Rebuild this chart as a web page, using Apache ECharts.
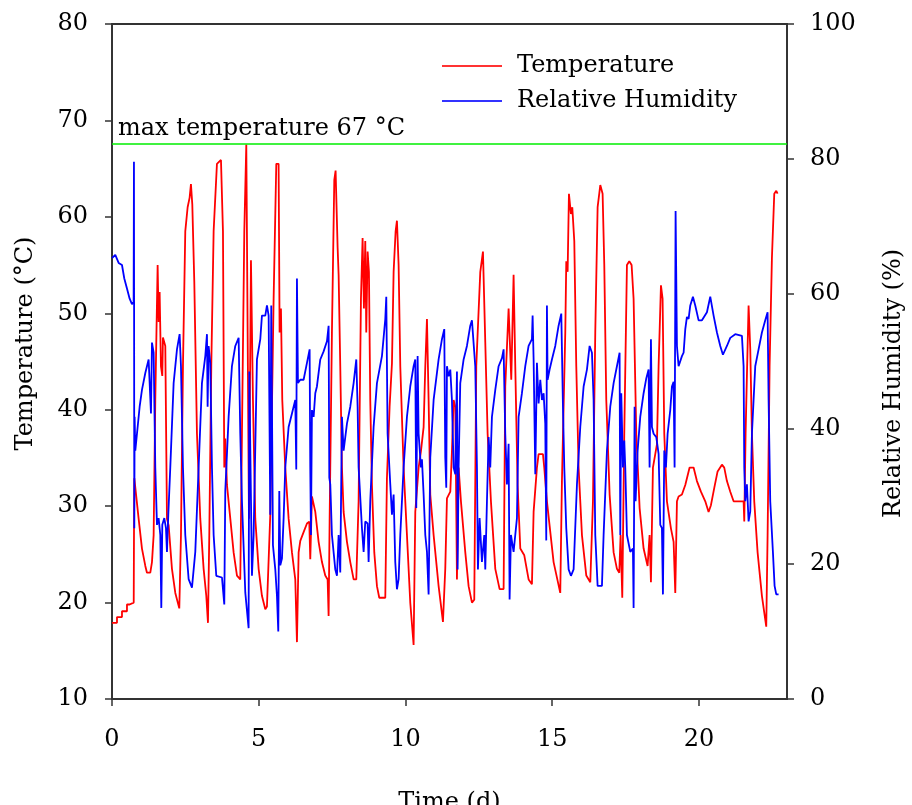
<!DOCTYPE html>
<html>
<head>
<meta charset="utf-8">
<script src="https://cdn.jsdelivr.net/npm/echarts@6/dist/echarts.min.js"></script>
<style>
html,body{margin:0;padding:0;background:#fff;}
#chart{width:912px;height:805px;}
</style>
</head>
<body>
<div id="chart"></div>
<script>
// Time (d), Temperature (°C)
const temperatureData = [
[0,17.9],[0.17,17.9],[0.17,18.5],[0.34,18.5],[0.34,19.1],[0.51,19.1],[0.51,19.8],[0.6,19.8],[0.6,20.0],[0.74,20.0],[0.75,27.7],[0.76,32.9],[0.79,32.9],[0.907,28.7],[1.021,25.6],[1.135,23.8],[1.191,23.1],[1.305,23.1],[1.362,24.2],[1.419,27.0],[1.475,41.0],[1.555,55.0],[1.589,49.1],[1.623,52.2],[1.668,44.5],[1.714,43.5],[1.736,47.5],[1.816,46.6],[1.873,28.7],[1.93,28.0],[2.043,23.5],[2.157,21.0],[2.293,19.4],[2.35,27.0],[2.418,44.5],[2.497,58.5],[2.577,61.0],[2.645,62.0],[2.69,63.4],[2.736,61.3],[2.804,53.3],[2.895,37.5],[3.008,28.7],[3.122,23.5],[3.213,20.7],[3.27,17.9],[3.315,27.0],[3.383,44.5],[3.463,58.5],[3.576,65.5],[3.713,65.9],[3.781,58.5],[3.826,34.0],[3.86,37.0],[3.917,32.2],[4.031,28.7],[4.144,25.2],[4.258,22.8],[4.371,22.4],[4.428,37.5],[4.508,58.5],[4.576,67.5],[4.621,67.3],[4.667,28.7],[4.735,55.5],[4.803,41.0],[4.882,28.7],[4.996,23.5],[5.109,20.7],[5.223,19.3],[5.28,19.6],[5.393,29.1],[5.507,51.5],[5.598,65.5],[5.677,65.5],[5.711,48.0],[5.757,50.5],[5.802,41.0],[5.904,34.0],[6.018,28.7],[6.132,25.2],[6.245,22.4],[6.302,15.9],[6.359,25.2],[6.416,26.4],[6.529,27.3],[6.643,28.2],[6.722,28.4],[6.756,24.5],[6.813,31.0],[6.927,29.4],[7.04,26.3],[7.154,24.2],[7.267,22.8],[7.347,22.4],[7.381,18.6],[7.415,28.4],[7.494,48.0],[7.574,63.8],[7.619,64.8],[7.688,56.8],[7.722,54.0],[7.778,44.5],[7.835,34.0],[7.892,29.4],[8.006,26.3],[8.119,24.2],[8.233,22.4],[8.324,22.4],[8.403,30.5],[8.483,51.5],[8.539,57.8],[8.585,50.5],[8.63,57.5],[8.664,48.0],[8.71,56.4],[8.755,54.3],[8.8,41.0],[8.857,32.2],[8.937,25.2],[9.028,21.7],[9.107,20.5],[9.312,20.5],[9.368,32.9],[9.459,40.3],[9.539,44.8],[9.596,54.3],[9.664,58.5],[9.709,59.6],[9.766,55.0],[9.823,44.5],[9.936,34.0],[10.05,27.0],[10.163,20.0],[10.277,15.6],[10.334,29.4],[10.448,34.0],[10.527,35.7],[10.618,38.2],[10.675,44.5],[10.732,49.4],[10.788,41.0],[10.845,31.2],[10.959,27.0],[11.129,21.7],[11.277,18.0],[11.356,23.5],[11.413,30.8],[11.527,31.5],[11.583,35.7],[11.64,41.0],[11.697,40.3],[11.754,22.4],[11.81,34.0],[11.89,30.5],[12.038,25.2],[12.151,21.7],[12.265,20.0],[12.344,20.3],[12.412,44.5],[12.549,54.3],[12.64,56.4],[12.719,47.0],[12.799,37.5],[12.912,30.5],[13.06,23.5],[13.207,21.4],[13.344,21.4],[13.4,42.4],[13.514,50.5],[13.605,43.1],[13.684,54.0],[13.741,44.5],[13.821,32.2],[13.912,25.6],[14.048,24.9],[14.195,22.4],[14.309,21.9],[14.366,29.4],[14.479,34.0],[14.536,35.4],[14.684,35.4],[14.729,34.0],[14.82,30.5],[15.047,24.2],[15.274,21.0],[15.331,32.6],[15.445,48.0],[15.479,55.4],[15.525,54.3],[15.57,62.4],[15.638,60.3],[15.684,61.0],[15.752,57.5],[15.82,44.5],[15.899,34.0],[16.013,27.0],[16.161,22.8],[16.297,22.1],[16.388,30.5],[16.467,48.0],[16.547,61.0],[16.638,63.3],[16.717,62.4],[16.774,55.0],[16.842,41.0],[16.956,31.2],[17.092,25.2],[17.205,23.5],[17.285,23.1],[17.33,27.0],[17.387,20.5],[17.455,37.5],[17.546,55.0],[17.626,55.4],[17.705,55.0],[17.773,51.5],[17.864,37.5],[17.978,29.8],[18.114,25.6],[18.25,23.8],[18.318,27.0],[18.364,22.1],[18.432,34.0],[18.568,36.4],[18.625,44.5],[18.705,52.9],[18.761,51.5],[18.818,37.5],[18.909,30.5],[19.045,27.7],[19.136,26.3],[19.193,21.0],[19.25,30.5],[19.306,31.0],[19.42,31.2],[19.534,32.2],[19.681,34.0],[19.817,34.0],[19.931,32.6],[20.067,31.5],[20.215,30.5],[20.328,29.4],[20.408,30.1],[20.522,31.9],[20.635,33.6],[20.783,34.3],[20.862,34.0],[20.953,32.6],[21.067,31.5],[21.18,30.5],[21.521,30.5],[21.544,28.4],[21.589,37.5],[21.634,43.5],[21.691,50.8],[21.748,46.3],[21.805,37.5],[21.884,30.5],[21.998,25.2],[22.145,20.7],[22.293,17.5],[22.339,27.0],[22.407,44.5],[22.486,55.7],[22.566,62.4],[22.634,62.7],[22.679,62.4]
];

// Time (d), Relative Humidity (%)
const humidityData = [
[0,65.3],[0.112,65.8],[0.226,64.6],[0.34,64.3],[0.419,62.3],[0.51,60.8],[0.601,59.3],[0.68,58.5],[0.737,58.8],[0.748,79.6],[0.76,25.3],[0.771,41.8],[0.794,36.8],[0.851,39.3],[0.942,43.3],[1.021,45.8],[1.135,48.3],[1.248,50.3],[1.305,50.3],[1.328,42.3],[1.362,52.8],[1.419,51.3],[1.475,34.3],[1.532,25.8],[1.589,26.8],[1.646,24.3],[1.68,13.5],[1.714,25.8],[1.782,26.8],[1.839,25.3],[1.873,21.8],[1.918,27.3],[1.986,34.3],[2.1,46.8],[2.214,51.8],[2.304,54.05],[2.35,49.3],[2.418,34.3],[2.497,24.3],[2.611,17.75],[2.725,16.5],[2.838,21.8],[2.952,34.3],[3.065,46.8],[3.179,50.8],[3.236,54.05],[3.258,43.3],[3.292,52.3],[3.349,49.8],[3.406,34.3],[3.463,24.3],[3.553,18.25],[3.747,18.0],[3.826,14.0],[3.86,30.8],[3.974,41.8],[4.087,49.3],[4.201,52.3],[4.315,53.5],[4.371,39.3],[4.428,29.3],[4.542,15.75],[4.655,10.5],[4.678,48.5],[4.769,18.25],[4.826,24.3],[4.939,50.3],[5.053,53.3],[5.109,56.8],[5.223,56.8],[5.28,58.3],[5.337,56.8],[5.393,27.3],[5.427,58.3],[5.484,22.8],[5.564,19.2],[5.621,15.25],[5.666,10.0],[5.7,30.8],[5.734,19.8],[5.791,20.8],[5.848,26.8],[5.904,34.3],[6.018,40.3],[6.132,42.3],[6.245,44.3],[6.279,34.0],[6.302,62.3],[6.336,46.8],[6.416,47.3],[6.529,47.3],[6.643,49.8],[6.734,51.8],[6.756,34.3],[6.779,24.3],[6.813,42.8],[6.87,41.8],[6.927,45.3],[6.983,46.3],[7.097,50.3],[7.211,51.5],[7.324,53.0],[7.381,55.3],[7.404,32.8],[7.438,31.8],[7.494,24.3],[7.608,19.2],[7.665,18.25],[7.722,24.3],[7.778,18.75],[7.835,41.8],[7.892,36.8],[8.006,40.8],[8.119,43.3],[8.233,46.8],[8.324,50.3],[8.369,43.3],[8.403,34.3],[8.517,25.3],[8.574,21.8],[8.63,26.3],[8.71,26.0],[8.744,20.3],[8.8,29.3],[8.914,40.3],[9.028,46.8],[9.198,50.8],[9.312,56.3],[9.346,59.6],[9.391,39.3],[9.482,31.8],[9.539,27.3],[9.596,30.3],[9.652,20.3],[9.709,16.25],[9.766,17.75],[9.823,24.3],[9.936,34.3],[10.05,41.8],[10.163,46.3],[10.277,49.3],[10.334,50.3],[10.368,28.3],[10.414,50.8],[10.448,39.3],[10.527,34.3],[10.561,35.5],[10.618,30.3],[10.675,24.3],[10.732,21.8],[10.788,15.5],[10.845,35.8],[10.959,44.3],[11.129,50.3],[11.243,53.3],[11.322,54.8],[11.356,35.8],[11.39,31.3],[11.413,49.3],[11.47,47.8],[11.527,48.8],[11.583,44.3],[11.64,34.3],[11.697,33.3],[11.754,48.5],[11.776,19.2],[11.81,34.3],[11.867,46.8],[11.981,50.3],[12.094,52.3],[12.208,55.3],[12.265,56.1],[12.322,56.1],[12.378,49.3],[12.435,34.3],[12.469,19.2],[12.526,26.8],[12.605,20.3],[12.685,24.3],[12.719,19.2],[12.776,29.3],[12.833,38.8],[12.889,34.3],[12.946,41.8],[13.06,45.8],[13.173,49.3],[13.287,50.5],[13.344,51.8],[13.4,39.3],[13.457,31.8],[13.514,37.8],[13.548,14.75],[13.594,24.3],[13.684,21.8],[13.798,26.8],[13.855,41.8],[13.968,45.3],[14.082,49.3],[14.195,52.3],[14.309,53.3],[14.332,56.8],[14.366,50.3],[14.423,33.3],[14.479,49.8],[14.536,43.8],[14.593,47.3],[14.65,44.3],[14.707,45.3],[14.763,40.8],[14.797,23.5],[14.82,58.3],[14.843,47.3],[14.911,48.8],[14.99,50.3],[15.104,52.3],[15.217,55.3],[15.309,57.1],[15.366,43.3],[15.411,34.3],[15.479,25.3],[15.559,19.2],[15.638,18.25],[15.729,19.2],[15.843,31.8],[15.956,40.3],[16.07,46.3],[16.183,48.8],[16.274,52.3],[16.354,51.3],[16.41,44.3],[16.467,24.3],[16.547,16.75],[16.694,16.75],[16.751,24.3],[16.865,36.8],[16.978,43.3],[17.092,46.8],[17.205,49.3],[17.296,51.3],[17.319,24.3],[17.353,45.3],[17.41,34.3],[17.455,38.3],[17.489,34.3],[17.546,24.3],[17.66,21.8],[17.75,22.3],[17.773,13.5],[17.807,43.3],[17.841,29.3],[17.91,36.8],[18.0,41.8],[18.114,45.3],[18.205,47.5],[18.284,48.8],[18.318,34.3],[18.364,53.3],[18.398,40.3],[18.455,39.3],[18.546,38.8],[18.625,36.3],[18.682,25.8],[18.738,25.3],[18.773,15.5],[18.818,36.8],[18.875,34.3],[18.932,39.3],[19.022,42.8],[19.079,46.3],[19.136,47.0],[19.17,34.3],[19.204,72.3],[19.25,52.3],[19.306,49.3],[19.42,50.8],[19.477,51.3],[19.534,54.8],[19.59,56.6],[19.647,56.3],[19.704,58.3],[19.795,59.6],[19.874,58.3],[19.988,56.1],[20.102,56.1],[20.272,57.3],[20.385,59.6],[20.499,56.8],[20.613,54.3],[20.726,52.3],[20.817,51.0],[20.953,52.3],[21.067,53.5],[21.237,54.05],[21.464,53.8],[21.521,49.3],[21.544,34.3],[21.578,29.3],[21.634,31.8],[21.691,26.3],[21.748,27.8],[21.805,39.3],[21.918,49.3],[22.032,51.8],[22.145,54.3],[22.259,56.1],[22.339,57.3],[22.373,44.3],[22.429,29.3],[22.52,21.8],[22.577,16.75],[22.634,15.5],[22.713,15.5]
];

const seriesNames = ['Temperature', 'Relative Humidity'];
const timeTicks = [0, 5, 10, 15, 20];
const maxTemperature = 67.6;
const maxTemperatureLabel = 'max temperature 67 °C';

const FONT = 'DejaVu Serif';
const FS = 24;
const TFS = 24;
const AX = '#333';

const chart = echarts.init(document.getElementById('chart'), null, {renderer: 'canvas'});
chart.setOption({
  animation: false,
  backgroundColor: '#fff',
  grid: {left: 112, right: 125, top: 24, bottom: 106, show: true, borderColor: AX, borderWidth: 1.8,
    backgroundColor: 'transparent', outerBoundsMode: 'none', containLabel: false},
  legend: {
    data: [
      {name: seriesNames[0], icon: 'rect', itemStyle: {color: '#ff3333'}},
      {name: seriesNames[1], icon: 'rect', itemStyle: {color: '#3333ff'}}
    ],
    orient: 'vertical',
    left: 442, top: 54, padding: 0,
    itemWidth: 60, itemHeight: 2, itemGap: 11,
    textStyle: {fontFamily: FONT, fontSize: FS, color: '#000', lineHeight: 24, padding: [0, 0, 0, 10]}
  },
  xAxis: {
    type: 'value', min: 0, max: 23,
    name: 'Time (d)', nameLocation: 'middle', nameGap: 92,
    nameTextStyle: {fontFamily: FONT, fontSize: FS, color: '#000'},
    axisLine: {show: true, lineStyle: {color: AX, width: 1.8}},
    axisTick: {show: true, length: 7, lineStyle: {color: AX, width: 1.5}, customValues: timeTicks},
    axisLabel: {fontFamily: FONT, fontSize: TFS, color: '#000', margin: 29, customValues: timeTicks},
    splitLine: {show: false}
  },
  yAxis: [
    {
      type: 'value', min: 10, max: 80, interval: 10, position: 'left',
      name: 'Temperature (°C)', nameLocation: 'middle', nameGap: 74,
      nameTextStyle: {fontFamily: FONT, fontSize: FS, color: '#000', padding: [0, 0, 0, 36]},
      axisLine: {show: true, lineStyle: {color: AX, width: 1.8}},
      axisTick: {show: true, length: 7, lineStyle: {color: AX, width: 1.5}},
      axisLabel: {fontFamily: FONT, fontSize: TFS, color: '#000', margin: 24},
      splitLine: {show: false}
    },
    {
      type: 'value', min: 0, max: 100, interval: 20, position: 'right',
      name: 'Relative Humidity (%)', nameLocation: 'middle', nameGap: 95,
      nameTextStyle: {fontFamily: FONT, fontSize: FS, color: '#000', padding: [0, 44, 0, 0]},
      axisLine: {show: true, lineStyle: {color: AX, width: 1.8}},
      axisTick: {show: true, length: 7, lineStyle: {color: AX, width: 1.5}},
      axisLabel: {fontFamily: FONT, fontSize: TFS, color: '#000', margin: 23},
      splitLine: {show: false}
    }
  ],
  series: [
    {
      name: seriesNames[0], type: 'line', yAxisIndex: 0,
      data: temperatureData, showSymbol: false, symbol: 'none',
      lineStyle: {color: '#ff0000', width: 1.8}, itemStyle: {color: '#ff0000'},
      z: 3,
      markLine: {
        silent: true, symbol: ['none', 'none'],
        lineStyle: {color: '#00ee00', width: 1.6, type: 'solid'},
        label: {show: true, position: 'insideStartTop', formatter: maxTemperatureLabel,
          fontFamily: FONT, fontSize: FS, color: '#000', distance: [6, 3]},
        data: [{yAxis: maxTemperature}]
      }
    },
    {
      name: seriesNames[1], type: 'line', yAxisIndex: 1,
      data: humidityData, showSymbol: false, symbol: 'none',
      lineStyle: {color: '#0000ff', width: 1.8}, itemStyle: {color: '#0000ff'},
      z: 4
    }
  ]
});
</script>
</body>
</html>
